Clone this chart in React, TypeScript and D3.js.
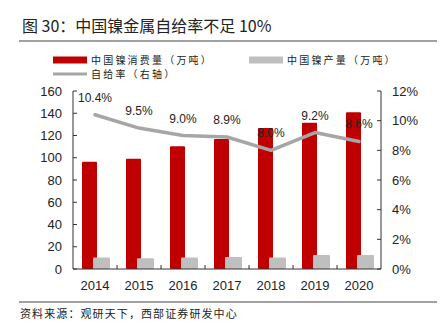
import React from "react";
import * as d3 from "d3";

const years = ["2014", "2015", "2016", "2017", "2018", "2019", "2020"];
const consumption = [96.4, 99.2, 110.3, 116.9, 126.7, 131.5, 140.8];
const production = [10.3, 9.6, 10.3, 10.8, 10.3, 12.5, 12.5];
const ratio = [10.4, 9.5, 9.0, 8.9, 8.0, 9.2, 8.6];
const leftTicks = [0, 20, 40, 60, 80, 100, 120, 140, 160];
const rightTicks = [0, 2, 4, 6, 8, 10, 12];

const W = 440, H = 333;
const L = 73, R = 381, T = 91, B = 269;
const FONT = "'Liberation Sans', Arial, sans-serif";
const CJK = "'Noto Sans CJK SC', sans-serif";

export default function App() {
  const x = d3.scaleBand<string>().domain(years).range([L, R]).padding(0);
  const yL = d3.scaleLinear().domain([0, 160]).range([B, T]);
  const yR = d3.scaleLinear().domain([0, 12]).range([B, T]);
  const cx = (y: string) => (x(y) as number) + x.bandwidth() / 2;
  const line = d3
    .line<number>()
    .x((_, i) => cx(years[i]))
    .y((d) => yR(d))
    .curve(d3.curveLinear);

  return (
    <svg width={W} height={H} style={{ position: "absolute", left: 0, top: 0 }}>
      <rect width={W} height={H} fill="#fff" />
      <text x={22} y={32} fontFamily={CJK} fontSize={16} fill="#222">
        图 30：中国镍金属自给率不足 10%
      </text>
      <line x1={19} x2={437} y1={41} y2={41} stroke="#444" strokeWidth={1.2} />

      {/* legend */}
      <rect x={53} y={56.5} width={34} height={7} fill="#C00000" />
      <text x={91} y={63.5} fontFamily={CJK} fontSize={10} letterSpacing={2.2} fill="#222">中国镍消费量（万吨）</text>
      <rect x={249} y={56.5} width={34} height={7} fill="#BFBFBF" />
      <text x={287} y={63.5} fontFamily={CJK} fontSize={10} letterSpacing={2.2} fill="#222">中国镍产量（万吨）</text>
      <line x1={53} x2={87} y1={74} y2={74} stroke="#A6A6A6" strokeWidth={3} />
      <text x={91} y={78} fontFamily={CJK} fontSize={10} letterSpacing={2.2} fill="#222">自给率（右轴）</text>

      {/* bars */}
      {years.map((y, i) => (
        <rect key={"c" + y} x={cx(y) - 13} y={yL(consumption[i])} width={15}
          height={B - yL(consumption[i])} fill="#C00000" rx={1} />
      ))}
      {years.map((y, i) => (
        <rect key={"p" + y} x={cx(y) - 2} y={yL(production[i])} width={17}
          height={B - yL(production[i])} fill="#BFBFBF" rx={1} />
      ))}

      {/* ratio line */}
      <path d={line(ratio) || ""} fill="none" stroke="#A6A6A6" strokeWidth={3.5} strokeLinejoin="round" strokeLinecap="round" />
      {years.map((y, i) => (
        <text key={"l" + y} x={cx(y)} y={yR(ratio[i]) - 13} textAnchor="middle"
          fontFamily={FONT} fontSize={12} fill="#222">
          {ratio[i].toFixed(1)}%
        </text>
      ))}

      {/* axes */}
      <line x1={L} x2={L} y1={T} y2={B} stroke="#333" />
      {leftTicks.map((t) => (
        <g key={"lt" + t}>
          <line x1={L} x2={L + 4} y1={yL(t)} y2={yL(t)} stroke="#333" />
          <text x={62} y={yL(t) + 4.5} textAnchor="end" fontFamily={FONT} fontSize={13} fill="#222">{t}</text>
        </g>
      ))}
      <line x1={R} x2={R} y1={T} y2={B} stroke="#333" />
      {rightTicks.map((t) => (
        <g key={"rt" + t}>
          <line x1={R - 4} x2={R} y1={yR(t)} y2={yR(t)} stroke="#333" />
          <text x={392} y={yR(t) + 4.5} textAnchor="start" fontFamily={FONT} fontSize={13} fill="#222">{t}%</text>
        </g>
      ))}
      <line x1={L} x2={R} y1={B} y2={B} stroke="#333" />
      {years.slice(1).map((y) => (
        <line key={"xt" + y} x1={x(y) as number} x2={x(y) as number} y1={B} y2={B - 4} stroke="#333" />
      ))}
      {years.map((y) => (
        <text key={"xl" + y} x={cx(y)} y={290} textAnchor="middle" fontFamily={FONT} fontSize={13} fill="#222">{y}</text>
      ))}

      <line x1={19} x2={437} y1={302} y2={302} stroke="#444" strokeWidth={1.2} />
      <text x={20} y={318} fontFamily={CJK} fontSize={11} letterSpacing={1.1} fill="#222">资料来源：观研天下，西部证券研发中心</text>
    </svg>
  );
}
